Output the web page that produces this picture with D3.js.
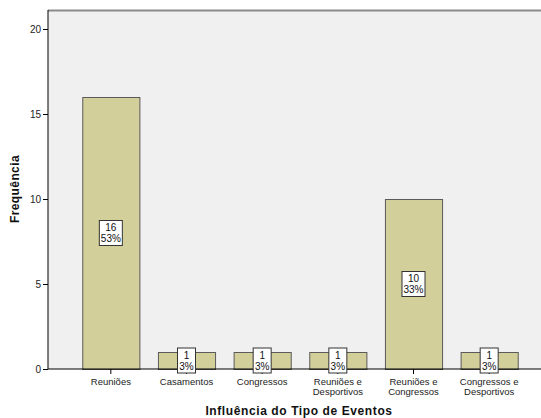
<!DOCTYPE html>
<html>
<head>
<meta charset="utf-8">
<script src="https://cdn.jsdelivr.net/npm/d3@7"></script>
<style>
  html, body { margin: 0; padding: 0; background: #fff; }
  svg { display: block; font-family: "Liberation Sans", Arial, sans-serif; }
</style>
</head>
<body>
<svg id="chart" width="541" height="418"></svg>
<script>
// Frequency of each event-type answer
const categories = [
  ["Reuniões"],
  ["Casamentos"],
  ["Congressos"],
  ["Reuniões e", "Desportivos"],
  ["Reuniões e", "Congressos"],
  ["Congressos e", "Desportivos"]
];
const counts = [16, 1, 1, 1, 10, 1];
const percents = ["53%", "3%", "3%", "3%", "33%", "3%"];
const yTicks = [0, 5, 10, 15, 20];

const svg = d3.select("#chart");
const plot = { left: 48, top: 10, right: 545, bottom: 369 };

const keys = categories.map(c => c.join(" "));
const x = d3.scaleBand()
  .domain(keys)
  .range([73, 527])
  .paddingInner(0.245)
  .paddingOuter(0.1225);

const y = d3.scaleLinear()
  .domain([0, 20])
  .range([plot.bottom, 29]);

// plot background
svg.append("rect")
  .attr("x", plot.left).attr("y", plot.top)
  .attr("width", plot.right - plot.left).attr("height", plot.bottom - plot.top)
  .attr("fill", "#f0f0f0");
svg.append("line")
  .attr("x1", plot.left).attr("x2", plot.right)
  .attr("y1", plot.top + 0.5).attr("y2", plot.top + 0.5)
  .attr("stroke", "#8a8a8a").attr("stroke-width", 2);

// bars
svg.append("g").selectAll("rect")
  .data(counts)
  .join("rect")
  .attr("x", (d, i) => x(keys[i]) + 0.5)
  .attr("y", d => y(d) + 0.5)
  .attr("width", x.bandwidth())
  .attr("height", d => y(0) - y(d))
  .attr("fill", "#d3cf9b")
  .attr("stroke", "#5a5a5a")
  .attr("stroke-width", 1);

// y axis
const yAxis = d3.axisLeft(y).tickValues(yTicks).tickSize(5).tickPadding(2);
const gy = svg.append("g")
  .attr("transform", `translate(${plot.left},0)`)
  .call(yAxis);
gy.select(".domain").remove();
gy.append("line")
  .attr("x1", 0).attr("x2", 0)
  .attr("y1", plot.top).attr("y2", plot.bottom)
  .attr("stroke", "#000");
gy.selectAll(".tick line").attr("stroke", "#000");
gy.selectAll(".tick text")
  .attr("font-size", 10).attr("fill", "#222")
  .attr("font-family", "Liberation Sans, Arial, sans-serif");

// x axis
const xAxis = d3.axisBottom(x).tickSize(5).tickFormat("");
const gx = svg.append("g")
  .attr("transform", `translate(0,${plot.bottom})`)
  .call(xAxis);
gx.select(".domain").remove();
gx.append("line")
  .attr("x1", plot.left).attr("x2", plot.right)
  .attr("y1", 0).attr("y2", 0)
  .attr("stroke", "#000");
gx.selectAll(".tick line").attr("stroke", "#000");
gx.selectAll(".tick").each(function (d, i) {
  const t = d3.select(this).append("text")
    .attr("text-anchor", "middle")
    .attr("font-size", 9.5)
    .attr("fill", "#222")
    .attr("font-family", "Liberation Sans, Arial, sans-serif");
  categories[i].forEach((line, j) => {
    t.append("tspan").attr("x", 0).attr("y", 16 + j * 10).text(line);
  });
});

// value labels (count and percentage) centred on each bar
const lab = svg.append("g").selectAll("g")
  .data(counts)
  .join("g")
  .attr("transform", (d, i) =>
    `translate(${x(keys[i]) + x.bandwidth() / 2},${y(d / 2)})`);
lab.each(function (d, i) {
  const g = d3.select(this);
  const bw = percents[i].length > 2 ? 23 : 18;
  g.append("rect")
    .attr("x", -bw / 2).attr("y", -12.5)
    .attr("width", bw).attr("height", 25)
    .attr("fill", "#fff")
    .attr("stroke", "#333").attr("stroke-width", 1);
  const t = g.append("text")
    .attr("text-anchor", "middle")
    .attr("font-size", 10)
    .attr("fill", "#111");
  t.append("tspan").attr("x", 0).attr("y", -2).text(d);
  t.append("tspan").attr("x", 0).attr("y", 9).text(percents[i]);
});

// axis titles
svg.append("text")
  .attr("x", 299).attr("y", 415)
  .attr("text-anchor", "middle")
  .attr("font-size", 12).attr("font-weight", "bold")
  .attr("letter-spacing", 0.6)
  .attr("fill", "#111")
  .text("Influência do Tipo de Eventos");
svg.append("text")
  .attr("transform", "translate(19,189) rotate(-90)")
  .attr("text-anchor", "middle")
  .attr("font-size", 12).attr("font-weight", "bold")
  .attr("letter-spacing", 0.4)
  .attr("fill", "#111")
  .text("Frequência");
</script>
</body>
</html>
